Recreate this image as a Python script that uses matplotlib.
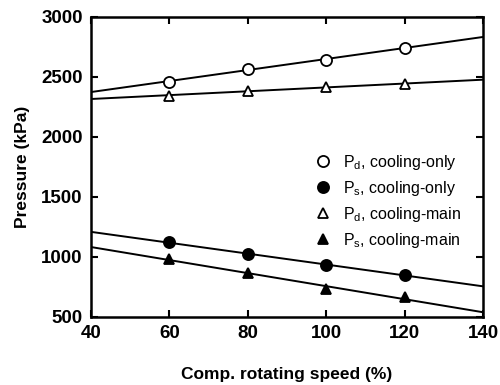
import matplotlib
matplotlib.use("Agg")
import matplotlib.pyplot as plt
import numpy as np

plt.rcParams['font.family'] = ['Liberation Sans', 'DejaVu Sans']
plt.rcParams['mathtext.fontset'] = 'custom'
plt.rcParams['mathtext.rm'] = 'Liberation Sans'
plt.rcParams['mathtext.it'] = 'Liberation Sans'

speed = [60, 80, 100, 120]
pd_only = [2460, 2570, 2642, 2742]
ps_only = [1120, 1025, 933, 848]
pd_main = [2344, 2386, 2414, 2442]
ps_main = [982, 864, 731, 664]

labels = [r'$\mathregular{P_d}$, cooling-only',
          r'$\mathregular{P_s}$, cooling-only',
          r'$\mathregular{P_d}$, cooling-main',
          r'$\mathregular{P_s}$, cooling-main']

fig = plt.figure(figsize=(5, 3.85), dpi=100)
ax = fig.add_axes([0.182, 0.177, 0.784, 0.779])

xs = np.array([40, 140])
series = [(pd_only, 'o', 'white'), (ps_only, 'o', 'black'),
          (pd_main, '^', 'white'), (ps_main, '^', 'black')]
for (vals, m, fc), lab in zip(series, labels):
    # linear trend line over full axis range
    k, b = np.polyfit(speed, vals, 1)
    ax.plot(xs, k * xs + b, color='black', lw=1.4, zorder=1)
    ax.plot(speed, vals, ls='none', marker=m, ms=8 if m == 'o' else 7.5,
            mfc=fc, mec='black', mew=1.3, label=lab, zorder=2)

ax.set_xlim(40, 140)
ax.set_ylim(500, 3000)
ax.set_xticks([40, 60, 80, 100, 120, 140])
ax.set_yticks([500, 1000, 1500, 2000, 2500, 3000])
ax.tick_params(direction='in', length=5, width=1.5, top=True, right=True,
               labelsize=13.5, pad=6)
for t in ax.get_xticklabels() + ax.get_yticklabels():
    t.set_fontweight('bold')
for s in ax.spines.values():
    s.set_linewidth(1.8)

ax.set_xlabel('Comp. rotating speed (%)', fontsize=12.5, fontweight='bold', labelpad=18)
ax.set_ylabel('Pressure (kPa)', fontsize=12.5, fontweight='bold', labelpad=8)

ax.legend(loc='upper left', bbox_to_anchor=(0.55, 0.573), frameon=False,
          fontsize=11.5, handlelength=1.0, handletextpad=0.75, labelspacing=0.44,
          borderpad=0)

fig.savefig('out.png', dpi=100)
